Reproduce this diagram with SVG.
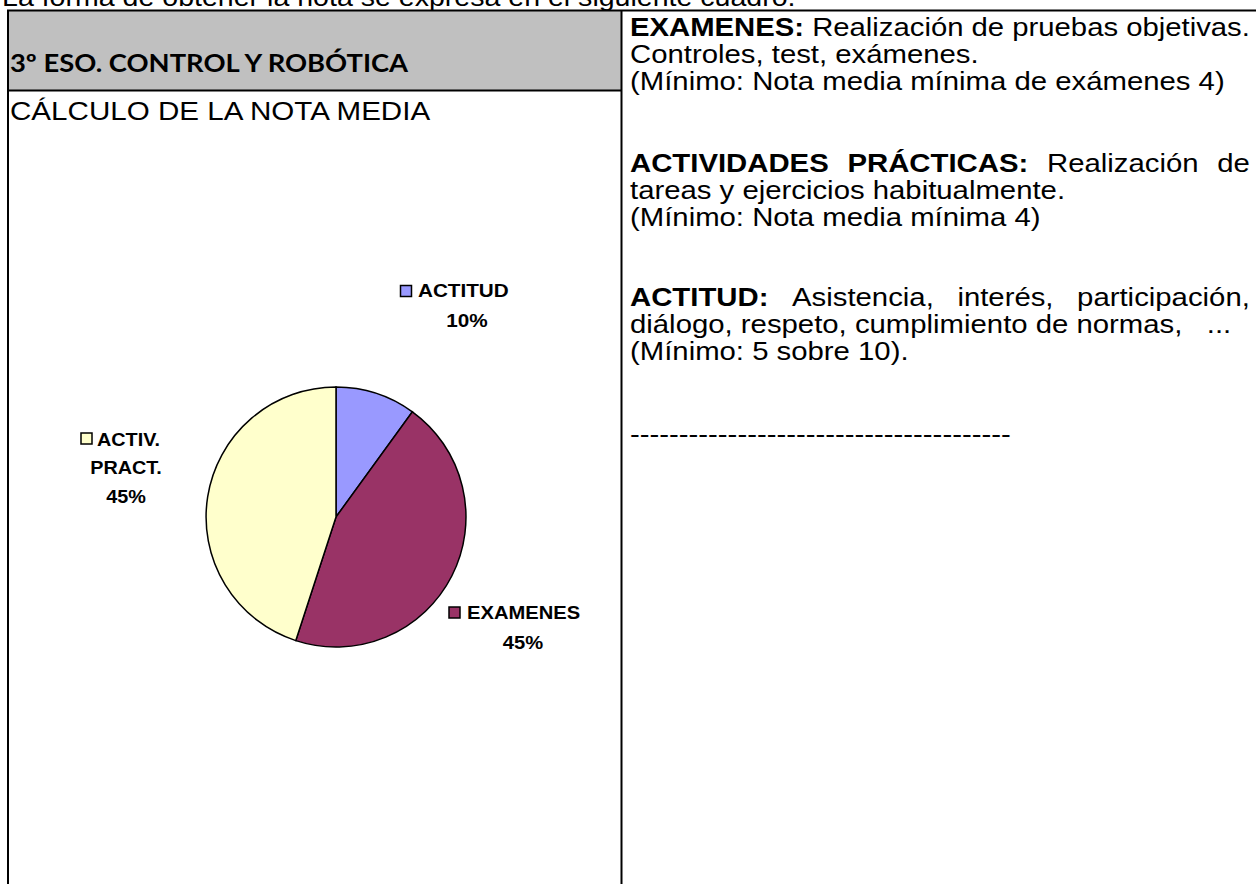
<svg xmlns="http://www.w3.org/2000/svg" width="1256" height="884" viewBox="0 0 1256 884">
<style>
.t{font-family:"Liberation Sans",Arial,sans-serif;font-size:25.5px;fill:#000}
.b{font-weight:bold}
.h{font-family:Lato,"Open Sans",sans-serif;font-weight:bold;font-size:24px;fill:#000}
.lg{font-family:"Liberation Sans",Arial,sans-serif;font-weight:bold;font-size:18px;fill:#000}
.ln{stroke:#000;stroke-width:2;fill:none}
.sl{stroke:#000;stroke-width:1.5}
</style>
<rect width="1256" height="884" fill="#fff"/>
<text class="t" transform="translate(2,6) scale(1.12,1)">La forma de obtener la nota se expresa en el siguiente cuadro.</text>
<g id="table">
<rect x="9" y="11" width="612" height="79" fill="#c0c0c0"/>
<line class="ln" x1="7" y1="10.5" x2="1256" y2="10.5"/>
<line class="ln" x1="8" y1="10" x2="8" y2="884"/>
<line class="ln" x1="621.5" y1="10" x2="621.5" y2="884"/>
<line class="ln" x1="8" y1="90.5" x2="621.5" y2="90.5"/>
</g>
<g id="header">
<text class="h" transform="translate(10,72) scale(1.14,1)">3º ESO. CONTROL Y ROBÓTICA</text>
<text class="t" transform="translate(10,120) scale(1.16,1)">CÁLCULO DE LA NOTA MEDIA</text>
</g>
<g id="right-text" transform="translate(630,0) scale(1.15,1)">
<text class="t" x="0" y="36" textLength="539" lengthAdjust="spacingAndGlyphs"><tspan class="b">EXAMENES:</tspan> Realización de pruebas objetivas.</text>
<text class="t" x="0" y="63">Controles, test, exámenes.</text>
<text class="t" x="0" y="90">(Mínimo: Nota media mínima de exámenes 4)</text>
<text class="t" y="172"><tspan class="b" x="0">ACTIVIDADES</tspan><tspan class="b" x="189.1">PRÁCTICAS:</tspan><tspan x="362.6">Realización</tspan><tspan x="510.7">de</tspan></text>
<text class="t" x="0" y="199">tareas y ejercicios habitualmente.</text>
<text class="t" x="0" y="226">(Mínimo: Nota media mínima 4)</text>
<text class="t" y="306"><tspan class="b" x="0">ACTITUD:</tspan><tspan x="140.9">Asistencia,</tspan><tspan x="284.7">interés,</tspan><tspan x="388.8">participación,</tspan></text>
<text class="t" x="0" y="333" style="white-space:pre">diálogo, respeto, cumplimiento de normas,   ...</text>
<text class="t" x="0" y="360">(Mínimo: 5 sobre 10).</text>
<text class="t" x="0" y="443">---------------------------------------</text>
</g>
<g id="pie">
<path class="sl" fill="#9999ff" d="M336,517 L336,387 A130,130 0 0 1 412.4,411.8 Z"/>
<path class="sl" fill="#993366" d="M336,517 L412.4,411.8 A130,130 0 0 1 295.8,640.6 Z"/>
<path class="sl" fill="#ffffcc" d="M336,517 L295.8,640.6 A130,130 0 0 1 336,387 Z"/>
</g>
<g id="legend-actitud">
<rect class="sl" x="400.5" y="285.5" width="11" height="11" fill="#9999ff"/>
<text class="lg" transform="translate(418,297) scale(1.15,1)">ACTITUD</text>
<text class="lg" transform="translate(467,327) scale(1.15,1)" text-anchor="middle">10%</text>
</g>
<g id="legend-activ">
<rect class="sl" x="81" y="433" width="11" height="11" fill="#ffffcc"/>
<text class="lg" transform="translate(97,446) scale(1.1,1)">ACTIV.</text>
<text class="lg" transform="translate(126,474) scale(1.1,1)" text-anchor="middle">PRACT.</text>
<text class="lg" transform="translate(126,503) scale(1.1,1)" text-anchor="middle">45%</text>
</g>
<g id="legend-examenes">
<rect class="sl" x="449" y="607" width="11" height="11" fill="#993366"/>
<text class="lg" transform="translate(467,619) scale(1.12,1)">EXAMENES</text>
<text class="lg" transform="translate(523,649) scale(1.12,1)" text-anchor="middle">45%</text>
</g>
</svg>
